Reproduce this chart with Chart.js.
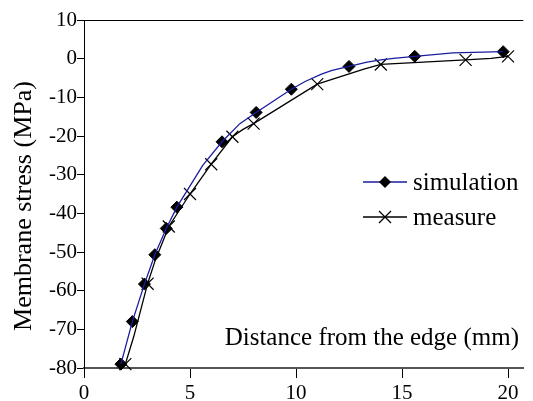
<!DOCTYPE html>
<html>
<head>
<meta charset="utf-8">
<script src="https://cdn.jsdelivr.net/npm/chart.js@4/dist/chart.umd.min.js"></script>
<style>
  html, body { margin: 0; padding: 0; background: #fff; }
  canvas { display: block; }
</style>
</head>
<body>
<canvas id="stress-chart" width="533" height="401"></canvas>
<script>
// simulation: full polyline, and the nodes that carry a diamond
var simLineX = [1.74, 2.28, 2.85, 3.34, 3.88, 4.38, 5.6, 6.51, 7.35, 8.12, 9.78, 10.43, 11.2, 11.7, 12.5, 13.35, 14.0, 14.6, 15.6, 17.4, 19.77];
var simLineY = [-79, -68, -58.3, -50.7, -43.9, -38.4, -27.6, -21.5, -16.8, -13.9, -7.9, -5.9, -4.0, -3.0, -2.0, -0.9, -0.3, 0.1, 0.6, 1.5, 1.8];
var simMarkX = [1.74, 2.28, 2.85, 3.34, 3.88, 4.38, 6.51, 8.12, 9.78, 12.5, 15.6, 19.77];
var simMarkY = [-79, -68, -58.3, -50.7, -43.9, -38.4, -21.5, -13.9, -7.9, -2.0, 0.6, 1.8];

// measure
var measLineX = [1.95, 2.35, 3, 3.35, 4, 5, 6, 7, 7.5, 8, 11, 13.2, 14, 18, 19.2, 20];
var measLineY = [-79, -71.8, -58.2, -52.3, -43.4, -35, -27.3, -20.2, -18.3, -16.8, -6.6, -2.7, -1.5, -0.3, 0.1, 0.6];
var measMarkX = [1.95, 3, 4, 5, 6, 7, 8, 11, 14, 18, 20];
var measMarkY = [-79, -58.2, -43.4, -35, -27.3, -20.2, -16.8, -6.6, -1.5, -0.3, 0.6];

var seriesNames = ['simulation', 'measure'];
var xTicks = [0, 5, 10, 15, 20];
var yTitle = 'Membrane stress (MPa)';
var xTitle = 'Distance from the edge (mm)';

(function () {
    var SERIF = "'Liberation Serif', 'Times New Roman', serif";
    var BLUE = '#1c1ca0';

    function pts(xs, ys) {
        return xs.map(function (x, i) { return { x: x, y: ys[i] }; });
    }

    function drawDiamond(ctx, x, y, r) {
        ctx.beginPath();
        ctx.moveTo(x, y - r);
        ctx.lineTo(x + r, y);
        ctx.lineTo(x, y + r);
        ctx.lineTo(x - r, y);
        ctx.closePath();
        ctx.fill();
    }

    function drawCross(ctx, x, y, h) {
        ctx.beginPath();
        ctx.moveTo(x - h, y - h);
        ctx.lineTo(x + h, y + h);
        ctx.moveTo(x - h, y + h);
        ctx.lineTo(x + h, y - h);
        ctx.stroke();
    }

    // frame top, texts inside the plot and the legend
    var decor = {
        id: 'decor',
        afterDraw: function (chart) {
            var ctx = chart.ctx;
            var a = chart.chartArea;
            ctx.save();
            ctx.strokeStyle = '#000';
            ctx.lineWidth = 1;
            ctx.beginPath();
            ctx.moveTo(a.left, a.top + 0.5);
            ctx.lineTo(a.right, a.top + 0.5);
            ctx.stroke();

            ctx.fillStyle = '#000';
            ctx.font = '25px ' + SERIF;
            ctx.textAlign = 'right';
            ctx.textBaseline = 'alphabetic';
            ctx.fillText(xTitle, 519, 345);

            ctx.save();
            ctx.translate(24, 206);
            ctx.rotate(-Math.PI / 2);
            ctx.textAlign = 'center';
            ctx.textBaseline = 'middle';
            ctx.font = '26px ' + SERIF;
            ctx.fillText(yTitle, 0, 0);
            ctx.restore();

            // legend
            var rows = [182, 217];
            ctx.textAlign = 'left';
            ctx.textBaseline = 'middle';
            ctx.font = '25px ' + SERIF;
            rows.forEach(function (ly, i) {
                ctx.strokeStyle = i === 0 ? BLUE : '#000';
                ctx.lineWidth = 1.3;
                ctx.beginPath();
                ctx.moveTo(363, ly);
                ctx.lineTo(407, ly);
                ctx.stroke();
                ctx.fillStyle = '#000';
                ctx.strokeStyle = '#000';
                if (i === 0) {
                    drawDiamond(ctx, 385, ly, 6);
                } else {
                    drawCross(ctx, 385, ly, 6);
                }
                ctx.fillText(seriesNames[i], 413, ly + 1);
            });
            ctx.restore();
        }
    };

    new Chart(document.getElementById('stress-chart').getContext('2d'), {
        type: 'scatter',
        data: {
            datasets: [
                {
                    label: seriesNames[0],
                    data: pts(simLineX, simLineY),
                    showLine: true,
                    borderColor: BLUE,
                    borderWidth: 1.3,
                    pointRadius: 0,
                    clip: false,
                },
                {
                    label: seriesNames[1],
                    data: pts(measLineX, measLineY),
                    showLine: true,
                    borderColor: '#000',
                    borderWidth: 1.3,
                    pointRadius: 0,
                    clip: false,
                },
                {
                    label: seriesNames[1] + ' points',
                    data: pts(measMarkX, measMarkY),
                    showLine: false,
                    pointStyle: 'crossRot',
                    pointRadius: 8.5,
                    pointBorderColor: '#000',
                    pointBorderWidth: 1.2,
                    clip: false,
                },
                {
                    label: seriesNames[0] + ' points',
                    data: pts(simMarkX, simMarkY),
                    showLine: false,
                    pointStyle: 'rectRot',
                    pointRadius: 6,
                    pointBackgroundColor: '#000',
                    pointBorderColor: '#000',
                    pointBorderWidth: 1,
                    clip: false,
                },
            ],
        },
        options: {
            responsive: false,
            animation: false,
            events: [],
            layout: { padding: { top: 20, right: 0, bottom: 0, left: 0 } },
            plugins: {
                legend: { display: false },
                tooltip: { enabled: false },
            },
            scales: {
                x: {
                    type: 'linear',
                    min: 0,
                    max: 20.72,
                    afterBuildTicks: function (scale) {
                        scale.ticks = xTicks.map(function (v) { return { value: v }; });
                    },
                    afterFit: function (scale) { scale.height = 33; },
                    border: { display: true, color: '#555', width: 2 },
                    grid: {
                        display: true,
                        drawOnChartArea: false,
                        drawTicks: true,
                        tickLength: 10,
                        color: '#000',
                        lineWidth: 1,
                    },
                    ticks: {
                        color: '#000',
                        padding: 3,
                        maxRotation: 0,
                        font: { family: SERIF, size: 21 },
                    },
                },
                y: {
                    min: -80,
                    max: 10,
                    afterFit: function (scale) { scale.width = 84; },
                    border: { display: true, color: '#000', width: 1 },
                    grid: {
                        display: true,
                        drawOnChartArea: false,
                        drawTicks: true,
                        tickLength: 7,
                        color: '#000',
                        lineWidth: 1,
                    },
                    ticks: {
                        stepSize: 10,
                        color: '#000',
                        padding: 0,
                        font: { family: SERIF, size: 21 },
                    },
                },
            },
        },
        plugins: [decor],
    });
})();
</script>
</body>
</html>
